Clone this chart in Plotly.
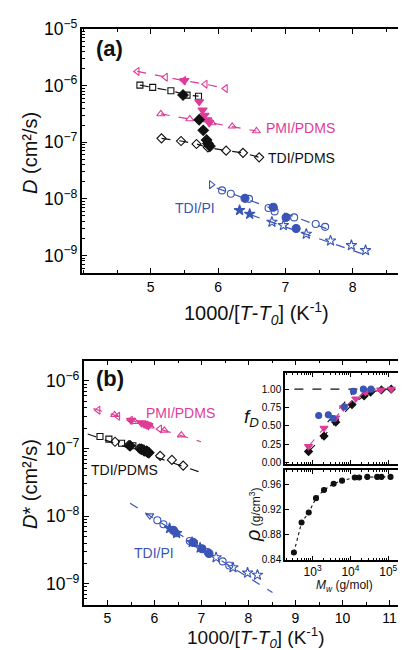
import plotly.graph_objects as go

W, H = 406, 650
PINK = "#DE3C98"
BLUE = "#3A55B5"
BLACK = "#111111"
FONT = "Liberation Sans, Arial, sans-serif"

# ---------------- Panel (a): D vs 1000/[T-T0] ----------------
a_pmi_lt_x = [4.80, 5.22, 5.49, 5.81, 6.11]
a_pmi_lt_y = [1.78e-6, 1.41e-6, 1.23e-6, 1.06e-6, 8.9e-7]
a_pmi_dn_x = [5.50, 5.72, 5.77, 5.80, 5.84, 5.87]
a_pmi_dn_y = [1.23e-6, 5.2e-7, 3.7e-7, 3.0e-7, 2.5e-7, 2.2e-7]
a_pmi_up_x = [5.15, 5.58, 5.91, 6.21, 6.57]
a_pmi_up_y = [3.16e-7, 2.57e-7, 2.19e-7, 1.91e-7, 1.58e-7]
a_tdi_sq_x = [4.84, 5.03, 5.30, 5.54, 5.71]
a_tdi_sq_y = [1.02e-6, 9.3e-7, 8.1e-7, 6.8e-7, 6.5e-7]
a_tdi_fd_x = [5.48, 5.72, 5.78, 5.83, 5.85, 5.88]
a_tdi_fd_y = [6.8e-7, 2.5e-7, 1.62e-7, 1.10e-7, 9.5e-8, 8.5e-8]
a_tdi_od_x = [5.16, 5.45, 5.68, 5.85, 6.12, 6.37, 6.61]
a_tdi_od_y = [1.17e-7, 1.05e-7, 9.3e-8, 8.1e-8, 7.1e-8, 6.5e-8, 5.4e-8]
a_pi_tr_x = [5.90]
a_pi_tr_y = [1.78e-8]
a_pi_oc_x = [6.06, 6.19, 6.46, 6.75, 6.84, 7.13, 7.45, 7.59]
a_pi_oc_y = [1.41e-8, 1.23e-8, 1.0e-8, 6.9e-9, 6.0e-9, 4.7e-9, 3.6e-9, 3.2e-9]
a_pi_fc_x = [6.40, 6.82, 7.01, 7.16]
a_pi_fc_y = [1.02e-8, 7.1e-9, 4.7e-9, 3.0e-9]
a_pi_st_x = [6.32, 6.47, 6.80, 6.97, 7.31, 7.67, 7.98, 8.19]
a_pi_st_y = [6.3e-9, 5.4e-9, 3.9e-9, 3.4e-9, 2.4e-9, 1.82e-9, 1.51e-9, 1.23e-9]
a_fit_up_x = [5.98, 7.62]
a_fit_up_y = [1.55e-8, 2.95e-9]
a_fit_lo_x = [6.24, 8.19]
a_fit_lo_y = [6.6e-9, 1.02e-9]
a_xticks = [5, 6, 7, 8]

# ---------------- Panel (b): D* vs 1000/[T-T0] ----------------
b_pmi_lt_y = [3.7e-7, 3.0e-7, 2.63e-7, 2.24e-7, 1.95e-7]
b_pmi_dn_y = [2.63e-7, 2.4e-7, 2.34e-7, 2.29e-7, 2.24e-7, 2.19e-7]
b_pmi_up_y = [3.16e-7, 2.5e-7, 2.14e-7, 1.86e-7, 1.58e-7]
b_tdi_sq_y = [1.51e-7, 1.38e-7, 1.2e-7, 1.1e-7, 1.02e-7]
b_tdi_fd_y = [1.1e-7, 9.8e-8, 9.3e-8, 9.1e-8, 8.9e-8, 8.7e-8]
b_tdi_od_y = [1.26e-7, 1.12e-7, 1.0e-7, 9.1e-8, 7.8e-8, 6.8e-8, 5.6e-8]
b_pi_tr_y = [1.02e-8]
b_pi_oc_y = [8.7e-9, 7.6e-9, 5.6e-9, 4.3e-9, 4.0e-9, 2.95e-9, 2.14e-9, 1.86e-9]
b_pi_fc_y = [6.2e-9, 4.1e-9, 3.3e-9, 2.8e-9]
b_pi_st_y = [6.6e-9, 5.6e-9, 4.1e-9, 3.4e-9, 2.45e-9, 1.74e-9, 1.45e-9, 1.35e-9]
b_fit_pmi_x = [4.70, 6.99]
b_fit_pmi_y = [3.9e-7, 1.26e-7]
b_fit_tdi_x = [4.58, 7.0]
b_fit_tdi_y = [1.64e-7, 4.4e-8]
b_fit_pi_x = [5.48, 8.51]
b_fit_pi_y = [1.55e-8, 7.4e-10]

# ---------------- Inset: f_D vs Mw ----------------
fd_blk_mw = [780, 2000, 4100, 11000, 23000, 34000, 66000, 120000]
fd_blk = [0.15, 0.36, 0.55, 0.79, 0.91, 0.96, 0.99, 1.00]
fd_pnk_mw = [780, 2000, 4100, 6500, 13800, 25000, 63000, 120000]
fd_pnk = [0.22, 0.47, 0.61, 0.75, 0.87, 0.96, 0.99, 1.00]
fd_blu_mw = [1450, 2600, 3500, 6900, 12000, 22000, 35000]
fd_blu = [0.64, 0.65, 0.60, 0.76, 0.97, 1.00, 1.00]
fd_ref_mw = [330, 120000]
fd_ref = [1.0, 1.0]
fd_fit_mw = [2500, 14000]
fd_fit = [0.55, 1.0]

# ---------------- Inset: density vs Mw ----------------
rho_mw = [320, 510, 790, 1230, 2000, 3600, 6000, 13000, 17000, 28000, 51000, 66000, 115000]
rho = [0.851, 0.899, 0.915, 0.938, 0.951, 0.961, 0.966, 0.971, 0.971, 0.972, 0.972, 0.972, 0.972]
mw_ticks = [1e3, 1e4, 1e5]
mw_ticktext = ["10<sup>3</sup>", "10<sup>4</sup>", "10<sup>5</sup>"]

fig = go.Figure()


def sc(x, y, xa, ya, symbol=None, color=BLACK, size=7, mode="markers", dash="dash", lw=1.2):
    kw = dict(x=x, y=y, xaxis=xa, yaxis=ya, mode=mode, showlegend=False, hoverinfo="skip")
    if "markers" in mode:
        kw["marker"] = dict(symbol=symbol, color=color, size=size, line=dict(color=color, width=1.1))
    if "lines" in mode:
        kw["line"] = dict(color=color, width=lw, dash=dash)
    fig.add_trace(go.Scatter(**kw))


# panel a
sc(a_pmi_lt_x, a_pmi_lt_y, "x", "y", "triangle-left-open", PINK, mode="lines+markers")
sc(a_pmi_up_x, a_pmi_up_y, "x", "y", "triangle-up-open", PINK, mode="lines+markers")
sc(a_tdi_sq_x, a_tdi_sq_y, "x", "y", "square-open", BLACK, size=6, mode="lines+markers")
sc(a_tdi_od_x, a_tdi_od_y, "x", "y", "diamond-open", BLACK, mode="lines+markers")
sc(a_pmi_dn_x, a_pmi_dn_y, "x", "y", "triangle-down", PINK, size=8)
sc(a_tdi_fd_x, a_tdi_fd_y, "x", "y", "diamond", BLACK, size=8)
sc(a_fit_up_x, a_fit_up_y, "x", "y", mode="lines", color=BLUE)
sc(a_fit_lo_x, a_fit_lo_y, "x", "y", mode="lines", color=BLUE)
sc(a_pi_tr_x, a_pi_tr_y, "x", "y", "triangle-right-open", BLUE)
sc(a_pi_oc_x, a_pi_oc_y, "x", "y", "circle-open", BLUE)
sc(a_pi_fc_x, a_pi_fc_y, "x", "y", "circle", BLUE, size=8)
sc(a_pi_st_x[:2], a_pi_st_y[:2], "x", "y", "star", BLUE, size=8)
sc(a_pi_st_x[2:], a_pi_st_y[2:], "x", "y", "star-open", BLUE, size=8)

# panel b
sc(b_fit_pmi_x, b_fit_pmi_y, "x2", "y2", mode="lines", color=PINK)
sc(b_fit_tdi_x, b_fit_tdi_y, "x2", "y2", mode="lines", color=BLACK)
sc(b_fit_pi_x, b_fit_pi_y, "x2", "y2", mode="lines", color=BLUE)
sc(a_pmi_lt_x, b_pmi_lt_y, "x2", "y2", "triangle-left-open", PINK)
sc(a_pmi_up_x, b_pmi_up_y, "x2", "y2", "triangle-up-open", PINK)
sc(a_pmi_dn_x, b_pmi_dn_y, "x2", "y2", "triangle-down", PINK, size=8)
sc(a_tdi_sq_x, b_tdi_sq_y, "x2", "y2", "square-open", BLACK, size=6)
sc(a_tdi_od_x, b_tdi_od_y, "x2", "y2", "diamond-open", BLACK)
sc(a_tdi_fd_x, b_tdi_fd_y, "x2", "y2", "diamond", BLACK, size=8)
sc(a_pi_tr_x, b_pi_tr_y, "x2", "y2", "triangle-down-open", BLUE)
sc(a_pi_oc_x, b_pi_oc_y, "x2", "y2", "circle-open", BLUE)
sc(a_pi_fc_x, b_pi_fc_y, "x2", "y2", "circle", BLUE, size=8)
sc(a_pi_st_x[:2], b_pi_st_y[:2], "x2", "y2", "star", BLUE, size=8)
sc(a_pi_st_x[2:], b_pi_st_y[2:], "x2", "y2", "star-open", BLUE, size=8)

# inset fD
sc(fd_ref_mw, fd_ref, "x3", "y3", mode="lines", color=BLACK, lw=1.1)
sc(fd_fit_mw, fd_fit, "x3", "y3", mode="lines", color=BLACK, lw=1.1)
sc(fd_blk_mw, fd_blk, "x3", "y3", "diamond", BLACK, size=6, mode="lines+markers", lw=1.1)
sc(fd_pnk_mw, fd_pnk, "x3", "y3", "triangle-down", PINK, size=7, mode="lines+markers", lw=1.1)
sc(fd_blu_mw, fd_blu, "x3", "y3", "circle", BLUE, size=6)

# inset rho
sc(rho_mw, rho, "x4", "y4", "circle", BLACK, size=5, mode="lines+markers", dash="dot", lw=1.1)


def ax(**kw):
    d = dict(showline=True, linecolor="black", linewidth=1.5, mirror="allticks",
             ticks="inside", ticklen=5, tickwidth=1.2, tickcolor="black",
             showgrid=False, zeroline=False, automargin=False,
             tickfont=dict(size=14, color="black", family=FONT))
    d.update(kw)
    return d


minor_lin = dict(ticks="inside", ticklen=3, tickwidth=1, tickcolor="black", showgrid=False)
minor_log = dict(ticks="inside", ticklen=3, tickwidth=1, tickcolor="black", showgrid=False, dtick="D1")
minor_log_small = dict(ticks="inside", ticklen=2, tickwidth=0.8, tickcolor="black", showgrid=False, dtick="D1")

fig.update_layout(
    template=None,
    width=W, height=H, margin=dict(l=0, r=0, t=0, b=0, autoexpand=False),
    paper_bgcolor="white", plot_bgcolor="rgba(0,0,0,0)",
    font=dict(family=FONT, color="black"),
    xaxis=ax(domain=[74 / W, 404 / W], anchor="y", range=[3.98, 8.88], tickvals=a_xticks,
             minor=dict(dtick=0.5, tick0=4, **minor_lin)),
    yaxis=ax(domain=[1 - 265 / H, 1 - 21 / H], anchor="x", type="log", range=[-9.31, -5],
             dtick=1, exponentformat="power", showexponent="all", minor=minor_log),
    xaxis2=ax(domain=[76 / W, 405 / W], anchor="y2", range=[4.5, 11.5], dtick=1,
              minor=dict(dtick=0.5, tick0=4.5, **minor_lin)),
    yaxis2=ax(domain=[1 - 596.7 / H, 1 - 352.7 / H], anchor="x2", type="log",
              range=[-9.31, -5.7], dtick=1, exponentformat="power", showexponent="all",
              minor=minor_log),
    xaxis3=ax(domain=[277 / W, 395 / W], anchor="y3", type="log", range=[2.27, 5.39],
              tickvals=mw_ticks, showticklabels=False, ticklen=4, minor=minor_log_small),
    yaxis3=ax(domain=[1 - 456 / H, 1 - 365 / H], anchor="x3", range=[-0.02, 1.22],
              tickvals=[0, 0.25, 0.5, 0.75, 1.0], tickformat=".2f", ticklen=4,
              tickfont=dict(size=10, color="black", family=FONT)),
    xaxis4=ax(domain=[277 / W, 395 / W], anchor="y4", type="log", range=[2.27, 5.39],
              tickvals=mw_ticks, ticktext=mw_ticktext, ticklen=4,
              tickfont=dict(size=12, color="black", family=FONT), minor=minor_log_small),
    yaxis4=ax(domain=[1 - 552 / H, 1 - 462 / H], anchor="x4", range=[0.839, 0.983],
              tickvals=[0.84, 0.88, 0.92, 0.96], tickformat=".2f", ticklen=4,
              tickfont=dict(size=10, color="black", family=FONT)),
)


def note(text, px, py, size=14, color=BLACK, angle=0, xanchor="center"):
    fig.add_annotation(text=text, x=px / W, y=1 - py / H, xref="paper", yref="paper",
                       showarrow=False, textangle=angle, xanchor=xanchor, yanchor="middle",
                       font=dict(size=size, color=color, family=FONT))


xtitle = "1000/[<i>T</i>-<i>T</i><sub><i>0</i></sub>] (K<sup>-1</sup>)"
note(xtitle, 248, 305, size=20)
note(xtitle, 248, 629, size=19)
note("<i>D</i> (cm²/s)", 22, 145, size=20, angle=-90)
note("<i>D</i>* (cm²/s)", 22, 476, size=20, angle=-90)
note("<b>(a)</b>", 101, 40, size=22)
note("<b>(b)</b>", 102, 370, size=22)
note("PMI/PDMS", 292, 120, color=PINK)
note("TDI/PDMS", 293, 150, color=BLACK)
note("TDI/PI", 187, 200, color=BLUE)
note("PMI/PDMS", 172, 405, color=PINK)
note("TDI/PDMS", 116, 462, color=BLACK)
note("TDI/PI", 146, 545, color=BLUE)
note("<i>f</i><sub><i>D</i></sub>", 243, 410, size=19)
note("<span style='font-size:20px'><i>ρ</i></span> (g/cm<sup>3</sup>)", 245, 507, size=12, angle=-90)
note("<i>M</i><sub><i>w</i></sub> (g/mol)", 336, 578, size=12)

fig.write_html("out.html")
